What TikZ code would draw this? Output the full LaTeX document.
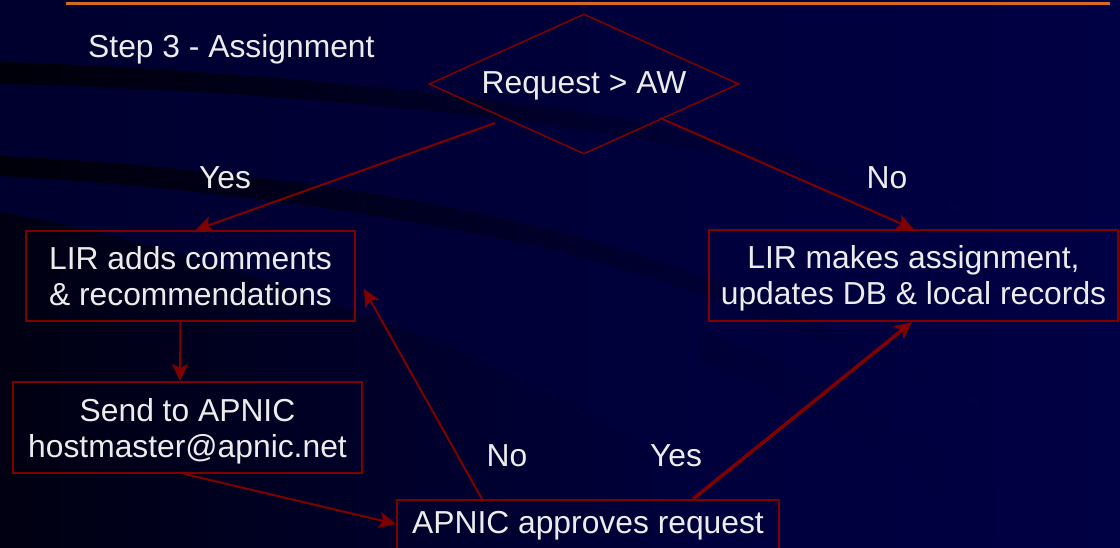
\documentclass[tikz,border=0pt]{standalone}
\usepackage{fontspec}
\setmainfont{Liberation Sans}
\usetikzlibrary{arrows.meta,shapes.geometric}
\definecolor{dred}{RGB}{128,0,0}
\definecolor{txt}{RGB}{236,236,236}
\definecolor{bgL}{RGB}{0,0,46}
\definecolor{bgR}{RGB}{0,0,68}
\definecolor{band}{RGB}{0,0,10}
\definecolor{dark}{RGB}{0,0,18}
\definecolor{orng}{RGB}{214,104,36}
\begin{document}
\begin{tikzpicture}[x=1pt,y=-1pt,
  box/.style={draw=dred, line width=2pt, text=txt, align=center, inner sep=0pt,
    font=\fontsize{31.8}{36}\selectfont},
  lbl/.style={text=txt, inner sep=0pt, font=\fontsize{31.8}{36}\selectfont},
  arr/.style={draw=dred, line width=2pt, -{Stealth[length=17pt,width=16pt,inset=4pt]}},
  ]
\useasboundingbox (0,0) rectangle (1120,548);
% background
\shade[left color=bgL, right color=bgR] (0,0) rectangle (1120,548);
% dark lower-left region
\shade[left color=dark, middle color=dark!80!bgL, right color=bgR!85!bgL]
  (0,212) .. controls (150,238) and (300,290) .. (420,335)
  .. controls (560,390) and (680,460) .. (770,548) -- (0,548) -- cycle;
% faint band right
\shade[left color=bgR!80!black, right color=bgR]
  (700,330) .. controls (850,390) and (980,460) .. (1060,548) -- (1000,548)
  .. controls (930,470) and (820,410) .. (700,360) -- cycle;
% band 1
\shade[left color=band, middle color=band, right color=bgR!92!bgL]
  (0,62) .. controls (200,68) and (420,88) .. (580,112)
  .. controls (700,130) and (820,160) .. (960,205)
  -- (960,212) .. controls (820,172) and (700,148) .. (580,130)
  .. controls (420,106) and (200,88) .. (0,84) -- cycle;
% band 2
\shade[left color=band, middle color=band!70!bgL, right color=bgR!92!bgL]
  (0,156) .. controls (200,165) and (420,195) .. (560,232)
  .. controls (700,268) and (820,320) .. (980,400)
  -- (980,408) .. controls (820,335) and (700,288) .. (560,252)
  .. controls (420,218) and (200,186) .. (0,176) -- cycle;
% top rule
\draw[orng, line width=3pt] (66,4) -- (1110,4);

% title
\node[lbl, anchor=west] (title) at (88,49) {Step 3 - Assignment};

% nodes
\node[diamond, draw=dred, line width=1.5pt, aspect=2.214, minimum width=310pt,
  minimum height=140pt, inner sep=0pt, text=txt, font=\fontsize{31.8}{36}\selectfont]
  (q) at (584,84) {\rule{0pt}{26pt}Request > AW};
\node[box, minimum width=329pt, minimum height=90pt] (lir) at (190.5,276)
  {LIR adds comments\\\& recommendations};
\node[box, minimum width=349pt, minimum height=91pt] (send) at (187.5,427.5)
  {\rule{0pt}{31pt}Send to APNIC\\hostmaster@apnic.net};
\node[box, minimum width=382pt, minimum height=52pt] (apn) at (588,526)
  {APNIC approves request};
\node[box, minimum width=409pt, minimum height=91pt] (rec) at (913.5,275.5)
  {\rule{0pt}{29pt}LIR makes assignment,\\updates DB \& local records};

% connectors
\coordinate (ys) at (495,123);
\coordinate (ns) at (660,118);
\draw[arr] (ys) -- ([xshift=5pt]lir.north);
\draw[arr] (ns) -- (rec.north);
\draw[arr] ([xshift=-10pt]lir.south) -- ([xshift=-7.5pt]send.north);
\draw[arr] ([xshift=-3pt]send.south) -- ([yshift=2pt]apn.west);
\draw[arr] ([xshift=-106pt]apn.north) -- ([xshift=8pt,yshift=-13pt]lir.east);
\draw[arr, line width=3.5pt] ([xshift=105pt]apn.north) -- ([xshift=-1.5pt]rec.south);

% labels
\node[lbl] (y1) at (225,178) {Yes};
\node[lbl] (n1) at (887,178) {No};
\node[lbl] (n2) at (507,456) {No};
\node[lbl] (y2) at (676,456) {Yes};
\end{tikzpicture}
\end{document}
